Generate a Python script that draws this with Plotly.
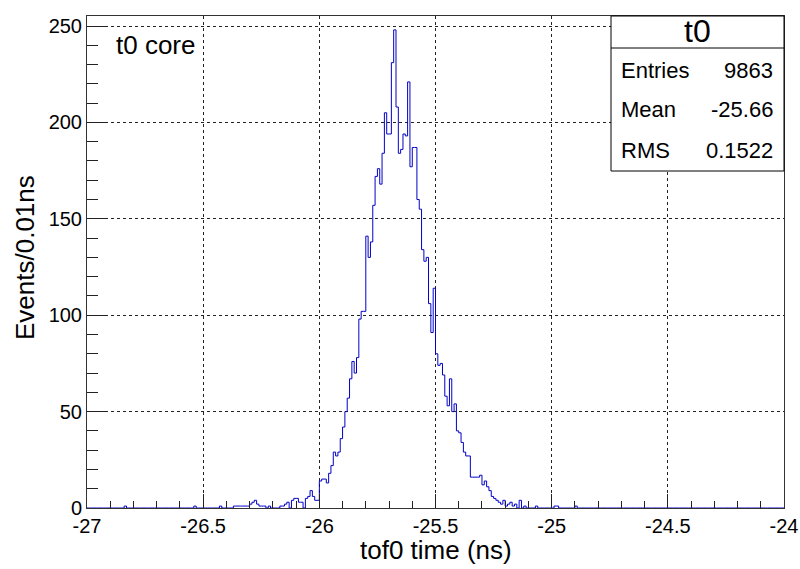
import plotly.graph_objects as go

# Histogram binning: 300 bins of 0.01 ns between -27 and -24 ns
x_lo = -27.0
x_hi = -24.0
bin_width = 0.01
n_bins = 300

# Contiguous core of the distribution, starting at bin 83
core_first_bin = 83
core_counts = [
    1, 1, 2, 3, 0, 4, 5, 5, 3, 3, 0, 5, 6, 9, 6, 4, 4,
    14, 15, 15, 13, 18, 22, 29, 27, 29, 36, 42,
    50, 57, 67, 76, 70, 78, 98, 102, 102, 141,
    130, 138, 157, 172, 176, 168, 184, 205, 194, 194,
    231, 248, 208, 184, 186, 194, 193, 221, 177, 187,
    187, 160, 155, 134, 128, 130, 106, 91, 114, 80,
    74, 75, 69, 58, 53, 67, 50, 54, 40, 39,
    34, 29, 27, 27, 16, 16, 16, 16, 17, 12,
    14, 11, 9, 6, 5, 4, 3, 2, 4, 1, 2, 3, 1, 2, 0, 4, 0, 1,
]

# Sparse tail bins (bin index, count)
tail_bins = [16, 46, 57, 63, 64, 65, 66, 67, 68, 69, 70, 71, 72, 73, 74, 75, 76, 78,
             193, 201, 202, 210]
tail_counts = [1, 1, 1, 1, 1, 1, 1, 1, 1, 1, 2, 3, 4, 2, 1, 1, 1, 1,
               1, 1, 1, 1]

# Statistics box contents
hist_name = "t0"
stat_labels = ["Entries", "Mean", "RMS"]
stat_values = ["9863", "-25.66", "0.1522"]

x_ticks = [-27, -26.5, -26, -25.5, -25, -24.5, -24]
x_ticktext = ["-27", "-26.5", "-26", "-25.5", "-25", "-24.5", "-24"]
y_ticks = [0, 50, 100, 150, 200, 250]

counts = [0] * n_bins
for i, c in enumerate(core_counts):
    counts[core_first_bin + i] = c
for b, c in zip(tail_bins, tail_counts):
    counts[b] = c

edges = [x_lo + bin_width * i for i in range(n_bins + 1)]
step_x = edges
step_y = counts + [counts[-1]]

FONT = "Liberation Sans, Arial, Helvetica, sans-serif"
W, H = 800, 569
L, R, T, B = 87, 16, 16, 61
plot_w = W - L - R
plot_h = H - T - B


def px(xpix):
    return (xpix - L) / plot_w


def py(ypix):
    return (H - B - ypix) / plot_h


fig = go.Figure()
fig.add_trace(go.Scatter(
    x=step_x, y=step_y, mode="lines", line=dict(color="#0000c8", width=1, shape="hv"),
    hoverinfo="skip",
))

axis_common = dict(
    showline=True, linecolor="#333333", linewidth=1, mirror=True,
    ticks="inside", tickcolor="#222222", tickwidth=1,
    showgrid=True, gridcolor="#222222", gridwidth=1, griddash="dot",
    zeroline=False, automargin=False,
    tickfont=dict(family=FONT, size=20, color="black"),
)

fig.update_xaxes(
    range=[x_lo, x_hi], tickvals=x_ticks, ticktext=x_ticktext, ticklen=14,
    minor=dict(dtick=0.1, ticks="inside", ticklen=7, tickcolor="#222222", showgrid=False),
    **axis_common,
)
fig.update_yaxes(
    range=[0, 255.2], tickvals=y_ticks, ticklen=20,
    minor=dict(dtick=10, ticks="inside", ticklen=11, tickcolor="#222222", showgrid=False),
    **axis_common,
)

shapes = [
    dict(type="rect", xref="paper", yref="paper", x0=px(611), x1=1, y0=py(171), y1=1,
         fillcolor="white", line=dict(color="black", width=1), layer="above"),
    dict(type="line", xref="paper", yref="paper", x0=px(611), x1=1, y0=py(48), y1=py(48),
         line=dict(color="black", width=1), layer="above"),
]

annotations = [
    dict(text="tof0 time (ns)", xref="paper", yref="paper", x=px(436), y=py(550),
         xanchor="center", yanchor="middle", showarrow=False,
         font=dict(family=FONT, size=26, color="black")),
    dict(text="Events/0.01ns", xref="paper", yref="paper", x=px(25), y=py(257),
         xanchor="center", yanchor="middle", textangle=-90, showarrow=False,
         font=dict(family=FONT, size=26, color="black")),
    dict(text="t0 core", xref="paper", yref="paper", x=px(114), y=py(45),
         xanchor="left", yanchor="middle", showarrow=False,
         font=dict(family=FONT, size=26, color="black")),
    dict(text=hist_name, xref="paper", yref="paper", x=px(697), y=py(31),
         xanchor="center", yanchor="middle", showarrow=False,
         font=dict(family=FONT, size=32, color="black")),
]
for k, (lab, val) in enumerate(zip(stat_labels, stat_values)):
    yy = py(70 + 40 * k)
    annotations.append(dict(text=lab, xref="paper", yref="paper", x=px(619), y=yy,
                            xanchor="left", yanchor="middle", showarrow=False,
                            font=dict(family=FONT, size=22, color="black")))
    annotations.append(dict(text=val, xref="paper", yref="paper", x=px(775), y=yy,
                            xanchor="right", yanchor="middle", showarrow=False,
                            font=dict(family=FONT, size=22, color="black")))

fig.update_layout(
    width=W, height=H, margin=dict(l=L, r=R, t=T, b=B, autoexpand=False),
    plot_bgcolor="white", paper_bgcolor="white", showlegend=False,
    shapes=shapes, annotations=annotations,
)

fig.write_html("out.html")
